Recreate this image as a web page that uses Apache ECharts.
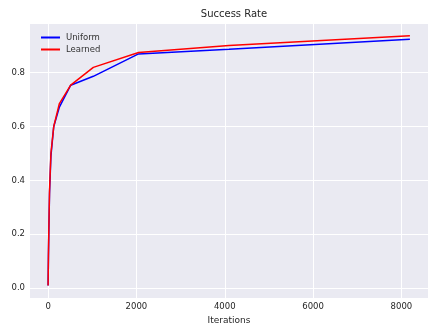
<!DOCTYPE html>
<html><head><meta charset="utf-8">
<script src="https://cdn.jsdelivr.net/npm/echarts@6/dist/echarts.min.js"></script>
<style>html,body{margin:0;padding:0;background:#fff}#c{width:429px;height:324px}</style>
</head><body><div id="c"></div>
<script>
const iterations = [0, 8, 16, 32, 64, 128, 256, 512, 1024, 2048, 4096, 8192];
const uniform = [0.01, 0.12, 0.20, 0.35, 0.49, 0.60, 0.672, 0.753, 0.786, 0.869, 0.886, 0.923];
const learned = [0.01, 0.12, 0.21, 0.36, 0.50, 0.60, 0.685, 0.753, 0.819, 0.874, 0.900, 0.936];
const xTicks = [0, 2000, 4000, 6000, 8000];
const yTicks = [0.0, 0.2, 0.4, 0.6, 0.8];

const font = 'DejaVu Sans';
const chart = echarts.init(document.getElementById('c'), null, {renderer: 'canvas'});
chart.setOption({
  animation: false,
  backgroundColor: '#ffffff',
  title: {text: 'Success Rate', left: 229, top: 4, textAlign: 'center',
    textStyle: {fontFamily: font, fontSize: 10, fontWeight: 'normal', color: '#262626'}},
  legend: {left: 36, top: 28, orient: 'vertical', itemWidth: 19, itemHeight: 2, itemGap: 3,
    icon: 'rect',
    textStyle: {fontFamily: font, fontSize: 8.5, color: '#333333', padding: [0,0,0,1]},
    data: ['Uniform', 'Learned']},
  grid: {left: 30, right: 1, top: 24, bottom: 26, show: true, backgroundColor: '#EAEAF2', borderWidth: 0,
    containLabel: false, outerBoundsMode: 'none'},
  xAxis: {type: 'value', min: -409.6, max: 8601.6,
    name: 'Iterations', nameLocation: 'middle', nameGap: 16,
    nameTextStyle: {fontFamily: font, fontSize: 9, color: '#262626'},
    axisLine: {show: false}, axisTick: {show: false, customValues: xTicks},
    axisLabel: {customValues: xTicks, fontFamily: font, fontSize: 8.5, color: '#262626', margin: 4,
      formatter: v => String(v)},
    splitLine: {show: true, lineStyle: {color: '#ffffff', width: 1}}},
  yAxis: {type: 'value', min: -0.0363, max: 0.98,
    axisLine: {show: false}, axisTick: {show: false, customValues: yTicks},
    axisLabel: {customValues: yTicks, fontFamily: font, fontSize: 8.5, color: '#262626', margin: 5,
      formatter: v => v.toFixed(1)},
    splitLine: {show: true, lineStyle: {color: '#ffffff', width: 1}}},
  series: [
    {name: 'Uniform', type: 'line', data: iterations.map((x, i) => [x, uniform[i]]),
      showSymbol: false, symbol: 'none', lineStyle: {color: '#0000ff', width: 1.5}, itemStyle: {color: '#0000ff'}},
    {name: 'Learned', type: 'line', data: iterations.map((x, i) => [x, learned[i]]),
      showSymbol: false, symbol: 'none', lineStyle: {color: '#ff0000', width: 1.5}, itemStyle: {color: '#ff0000'}}
  ]
});
</script></body></html>
